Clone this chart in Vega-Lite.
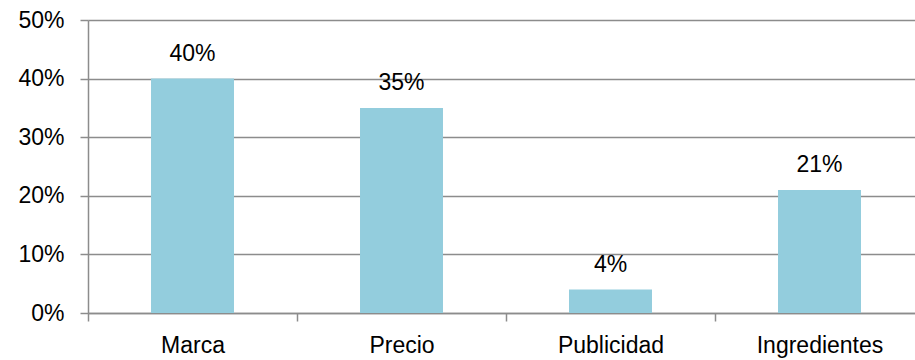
{
  "$schema": "https://vega.github.io/schema/vega-lite/v6.json",
  "autosize": "none",
  "padding": {"left": 88, "top": 20, "right": 0, "bottom": 47},
  "width": 836,
  "height": 293,
  "background": "white",
  "config": {"view": {"stroke": null}, "font": "Liberation Sans"},
  "data": {"values": [
    {"categoria": "Marca", "valor": 0.40},
    {"categoria": "Precio", "valor": 0.35},
    {"categoria": "Publicidad", "valor": 0.04},
    {"categoria": "Ingredientes", "valor": 0.21}
  ]},
  "encoding": {
    "x": {"field": "categoria", "type": "nominal", "sort": null,
      "scale": {"paddingInner": 0.603, "paddingOuter": 0.3015},
      "axis": {"title": null, "labelAngle": 0, "labelFontSize": 23, "labelColor": "black", "labelFont": "Liberation Sans",
        "tickOffset": -104.5, "labelOffset": 104.5, "tickSize": 8, "domainColor": "#8c8c8c", "tickColor": "#8c8c8c", "domainWidth": 1.5, "tickWidth": 1.5,
        "labelPadding": 13, "grid": false}},
    "y": {"field": "valor", "type": "quantitative", "scale": {"domain": [0, 0.5]},
      "axis": {"format": ".0%", "values": [0, 0.1, 0.2, 0.3, 0.4, 0.5], "title": null, "grid": true,
        "gridColor": "#8c8c8c", "gridWidth": 1.5, "gridOpacity": 1, "tickSize": 8, "tickColor": "#8c8c8c", "tickWidth": 1.5,
        "domainColor": "#8c8c8c", "domainWidth": 1.5, "labelFontSize": 23, "labelColor": "black", "labelFont": "Liberation Sans", "labelPadding": 16}}
  },
  "layer": [
    {"mark": {"type": "bar", "color": "#93CDDD"}},
    {"mark": {"type": "text", "dy": -18, "baseline": "alphabetic", "fontSize": 23, "color": "black", "font": "Liberation Sans"},
      "encoding": {"text": {"field": "valor", "type": "quantitative", "format": ".0%"}}}
  ]
}
